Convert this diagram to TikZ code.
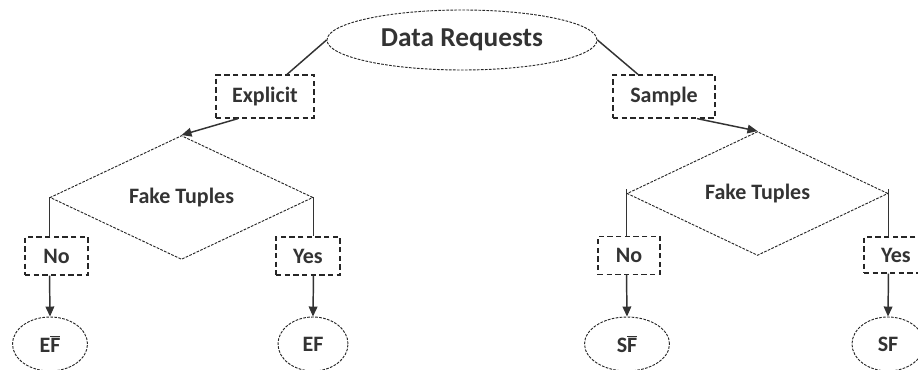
\documentclass[tikz,border=0pt]{standalone}
\usepackage{fontspec}
\setmainfont{Carlito}
\usetikzlibrary{shapes.geometric,arrows.meta,calc}
\newcommand{\barFsym}{\ensuremath{\overline{\mbox{F}}}}
\begin{document}
\begin{tikzpicture}[x=0.75pt,y=-0.75pt,
  lbl/.style={font=\fontsize{16.5}{19}\selectfont\bfseries, text=black!80},
  dashbox/.style={draw=black!85, line width=0.9pt, dash pattern=on 4pt off 2.5pt, rectangle, inner sep=0pt, lbl},
  dashell/.style={draw=black!85, line width=0.7pt, dash pattern=on 2pt off 1pt, ellipse, inner sep=0pt, lbl},
  dashdia/.style={draw=black!85, line width=0.7pt, dash pattern=on 2pt off 1pt, diamond, inner sep=0pt, lbl},
  conn/.style={draw=black!80, line width=1.1pt},
  arr/.style={conn, -{Triangle[length=7.5pt,width=6.5pt]}}]
\path[use as bounding box] (0,0) rectangle (918,370);
\clip (0,0) rectangle (918,370);

% top
\node[dashell, minimum width=270*0.75pt, minimum height=60*0.75pt,
      font=\fontsize{20.5}{24}\selectfont\bfseries] (dr) at (462,40) {Data Requests};
\node[dashbox, minimum width=98*0.75pt, minimum height=43*0.75pt] (exp) at (265,96.5) {Explicit};
\node[dashbox, minimum width=102*0.75pt, minimum height=43*0.75pt] (smp) at (664,96.5) {Sample};

% diamonds
\node[dashdia, minimum width=263*0.75pt, minimum height=75*0.75pt] (dL) at (181.5,197.5) {Fake Tuples};
\node[dashdia, minimum width=261*0.75pt, minimum height=67*0.75pt] (dR) at (757.5,193.5) {Fake Tuples};

% answer boxes
\node[dashbox, minimum width=63*0.75pt, minimum height=38*0.75pt] (noL) at (56.5,256) {No};
\node[dashbox, minimum width=64*0.75pt, minimum height=38*0.75pt] (yesL) at (308,256) {Yes};
\node[dashbox, minimum width=62*0.75pt, minimum height=38*0.75pt] (noR) at (629,255.5) {No};
\node[dashbox, minimum width=64*0.75pt, minimum height=36*0.75pt] (yesR) at (896,255) {Yes};

% results
\node[dashell, minimum width=75*0.75pt, minimum height=54*0.75pt] (efb) at (50,344) {E\barFsym};
\node[dashell, minimum width=70*0.75pt, minimum height=54*0.75pt] (ef) at (313,344) {EF};
\node[dashell, minimum width=85*0.75pt, minimum height=54*0.75pt] (sfb) at (627,344) {S\barFsym};
\node[dashell, minimum width=72*0.75pt, minimum height=54*0.75pt] (sf) at (888,344) {SF};

% connectors top
\coordinate (expin) at ($(exp.north)+(22,0)$);
\coordinate (smpin) at ($(smp.north)+(-26,0)$);
\draw[conn] (dr.west) -- (expin);
\draw[conn] (dr.east) -- (smpin);
\coordinate (expout) at ($(exp.south)+(-27,0)$);
\coordinate (smpout) at ($(smp.south)+(33,0)$);
\draw[arr] (expout) -- (dL.north);
\draw[arr] (smpout) -- (dR.north);

% left tree
\draw[conn] (dL.west) -- (dL.west |- noL.north);
\draw[conn] (dL.east) -- (dL.east |- yesL.north);
\draw[arr] (dL.west |- noL.south) -- (efb.north);
\draw[arr] (dL.east |- yesL.south) -- (ef.north);

% right tree
\coordinate (rwt) at ($(dR.west)+(0,-4)$);
\coordinate (ret) at ($(dR.east)+(0,-4)$);
\draw[conn] (rwt) -- (rwt |- noR.north);
\draw[conn] (ret) -- (ret |- yesR.north);
\draw[arr] (dR.west |- noR.south) -- (sfb.north);
\draw[arr] (dR.east |- yesR.south) -- (sf.north);
\end{tikzpicture}
\end{document}
